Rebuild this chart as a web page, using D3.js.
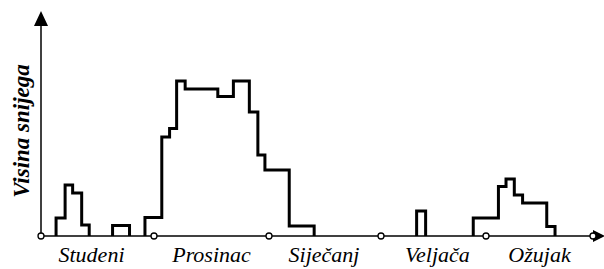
<!DOCTYPE html>
<html lang="hr">
<head>
<meta charset="UTF-8">
<title>Visina snijega</title>
<script src="https://d3js.org/d3.v7.min.js"></script>
<style>
    body { margin: 0; background: #fff; }
    svg { display: block; }
    .mjesec { font-family: "Liberation Serif", "Times New Roman", serif; font-style: italic; font-size: 22px; fill: #000; }
    .naslov-y { font-family: "Liberation Serif", "Times New Roman", serif; font-style: italic; font-weight: bold; font-size: 23px; fill: #000; }
</style>
</head>
<body>
<svg width="604" height="269"></svg>
<script>
    // mjeseci i njihove granice (dani od 1. studenog)
    const mjeseci = ["Studeni", "Prosinac", "Siječanj", "Veljača", "Ožujak"];
    const granice = [0, 30, 61, 92, 120, 151];

    // snježni pokrivač: svaki blok je niz koraka [dan, visina], zadnji korak pada na 0
    const blokStudeni1 = [[4, 18], [6.4, 51], [8.4, 43], [10.8, 11], [12.8, 0]];
    const blokStudeni2 = [[19, 10.5], [23.5, 0]];
    const blokZima = [[27.6, 18.5], [32.1, 99], [34.2, 107.5], [36.1, 155], [38.4, 147],
                      [47.2, 139.5], [51.4, 155], [55.7, 124], [58, 81], [59.9, 66],
                      [66.6, 10], [73.5, 0]];
    const blokVeljaca = [[101.5, 25], [103.9, 0]];
    const blokOzujak = [[116.6, 18], [123.6, 49.5], [125.8, 57], [128.2, 41], [130.6, 33],
                        [137.6, 9.5], [140, 0]];
    const blokovi = [blokStudeni1, blokStudeni2, blokZima, blokVeljaca, blokOzujak];

    const svg = d3.select("svg");
    const x0 = 41, y0 = 236;

    // granice mjeseci nisu jednako razmaknute na slici, pa je skala po dijelovima
    const x = d3.scaleLinear()
        .domain(granice)
        .range([41, 154, 269, 381, 486, 593]);
    const y = d3.scaleLinear()
        .domain([0, 224])
        .range([y0, 12]);

    // os y sa strelicom
    svg.append("line")
        .attr("x1", x0).attr("y1", y0)
        .attr("x2", x0).attr("y2", 24)
        .attr("stroke", "#000").attr("stroke-width", 1.5);
    svg.append("path")
        .attr("d", `M${x0},11 L${x0 - 7},26 L${x0 + 7},26 Z`)
        .attr("fill", "#000");

    // os x sa strelicom
    svg.append("line")
        .attr("x1", x0).attr("y1", y0)
        .attr("x2", 596).attr("y2", y0)
        .attr("stroke", "#000").attr("stroke-width", 1.5);
    svg.append("path")
        .attr("d", `M605,${y0} L593,${y0 - 6} L593,${y0 + 6} Z`)
        .attr("fill", "#000");

    // stepenasta linija visine snijega
    const linija = d3.line()
        .x(d => x(d[0]))
        .y(d => y(d[1]))
        .curve(d3.curveStepAfter);

    blokovi.forEach(b => {
        const tocke = [[b[0][0], 0]].concat(b);
        svg.append("path")
            .attr("d", linija(tocke))
            .attr("fill", "none")
            .attr("stroke", "#000")
            .attr("stroke-width", 3)
            .attr("stroke-linejoin", "miter");
    });

    // kružići na granicama mjeseci
    svg.selectAll("circle.granica")
        .data(granice)
        .join("circle")
        .attr("class", "granica")
        .attr("cx", d => x(d))
        .attr("cy", y0)
        .attr("r", 3)
        .attr("fill", "#fff")
        .attr("stroke", "#000")
        .attr("stroke-width", 1.3);

    // nazivi mjeseci (malo pomaknuti kao na slici)
    const pomak = [-6, 0, -1, 4, 0];
    svg.selectAll("text.mjesec")
        .data(mjeseci)
        .join("text")
        .attr("class", "mjesec")
        .attr("x", (d, i) => (x(granice[i]) + x(granice[i + 1])) / 2 + pomak[i])
        .attr("y", 262)
        .attr("text-anchor", "middle")
        .text(d => d);

    // naslov osi y
    svg.append("text")
        .attr("class", "naslov-y")
        .attr("transform", "translate(29,131) rotate(-90)")
        .attr("text-anchor", "middle")
        .text("Visina snijega");
</script>
</body>
</html>
